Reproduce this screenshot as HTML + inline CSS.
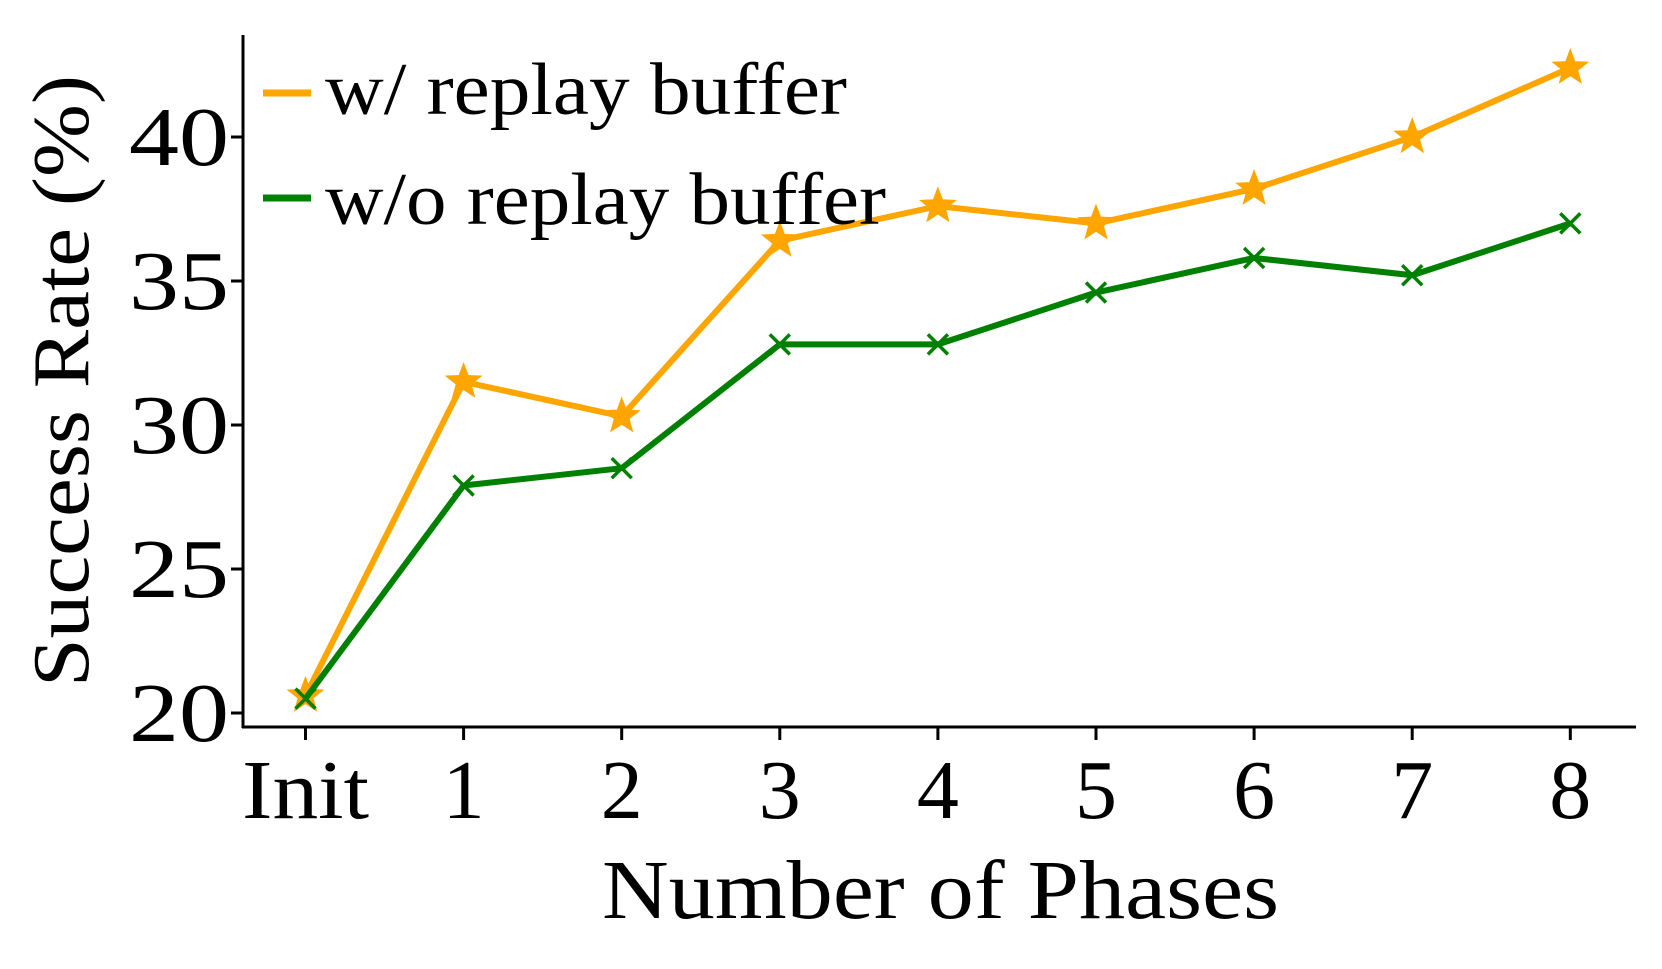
<!DOCTYPE html>
<html><head><meta charset="utf-8"><style>
html,body{margin:0;padding:0;background:#fff;}
svg{display:block;font-family:"Liberation Serif",serif;}
</style></head><body>
<svg id="chart" width="1662" height="969" viewBox="0 0 1662 969">
<g id="axes"></g>
<g id="series"></g>
<g id="legend"></g>
</svg>
<script>
const categories = ["Init","1","2","3","4","5","6","7","8"];
const withBuffer = [20.6,31.5,30.3,36.4,37.6,37.0,38.2,40.0,42.4];
const withoutBuffer = [20.5,27.9,28.5,32.8,32.8,34.6,35.8,35.2,37.0];
const yTicks = [20,25,30,35,40];

const NS="http://www.w3.org/2000/svg";
const X0=305.5, XSTEP=158.1, Y20=713, YPER=28.8;
const xs=i=>X0+i*XSTEP;
const ys=v=>Y20-(v-20)*YPER;
function mk(tag,attrs,parent){const e=document.createElementNS(NS,tag);for(const k in attrs)e.setAttribute(k,attrs[k]);parent.appendChild(e);return e;}
const axes=document.getElementById('axes'), series=document.getElementById('series'), legend=document.getElementById('legend');

let a=mk('line',{x1:243,y1:35,x2:243,y2:728,stroke:'#000','stroke-width':3},axes);


a=mk('line',{x1:242,y1:727,x2:1636,y2:727,stroke:'#000','stroke-width':3},axes);



yTicks.forEach(v=>{
  const y=ys(v);
  let t=mk('line',{x1:231,y1:y,x2:243,y2:y,stroke:'#000','stroke-width':3},axes);
  
  
  let l=mk('text',{x:229,y:y+28,'text-anchor':'end','font-size':84,textLength:100,lengthAdjust:'spacingAndGlyphs'},axes);
  l.textContent=v;
  
  
});
categories.forEach((c,i)=>{
  const x=xs(i);
  let t=mk('line',{x1:x,y1:727,x2:x,y2:740,stroke:'#000','stroke-width':3},axes);
  
  
  let l=mk('text',{x:x,y:818,'text-anchor':'middle','font-size':84},axes);
  l.textContent=c;
  if(c==="Init"){l.setAttribute('textLength',127);l.setAttribute('lengthAdjust','spacingAndGlyphs');}
  
  
});
let xt=mk('text',{x:602,y:918,'font-size':84,textLength:677,lengthAdjust:'spacingAndGlyphs'},axes);
xt.textContent="Number of Phases";


let yt=mk('text',{x:0,y:0,'font-size':80,'text-anchor':'middle',textLength:612,lengthAdjust:'spacingAndGlyphs',transform:'translate(88,381) rotate(-90)'},axes);
yt.textContent="Success Rate (%)";



function starPath(cx,cy,R){const r=R*0.42;let d='';for(let k=0;k<10;k++){const ang=-Math.PI/2+k*Math.PI/5;const rr=k%2?r:R;d+=(k?'L':'M')+(cx+rr*Math.cos(ang)).toFixed(1)+','+(cy+rr*Math.sin(ang)).toFixed(1);}return d+'Z';}

function drawSeries(vals,color,marker,name){
  const pts=vals.map((v,i)=>xs(i)+','+ys(v)).join(' ');
  let p=mk('polyline',{points:pts,fill:'none',stroke:color,'stroke-width':6,'stroke-linejoin':'round'},series);
  
  
  vals.forEach((v,i)=>{
    const x=xs(i),y=ys(v);
    let m;
    if(marker==='star'){m=mk('path',{d:starPath(x,y,17),fill:color,stroke:color,'stroke-width':2},series);}
    else{m=mk('path',{d:`M${x-10},${y-10}L${x+10},${y+10}M${x-10},${y+10}L${x+10},${y-10}`,stroke:color,'stroke-width':3.5,fill:'none'},series);}
    
    
  });
}
drawSeries(withBuffer,'#FFA500','star','with-replay-buffer');
drawSeries(withoutBuffer,'#008000','x','without-replay-buffer');

[['w/  replay buffer','#FFA500',93,114,522,'legend-entry-with-buffer'],['w/o replay buffer','#008000',198,224,561,'legend-entry-without-buffer']].forEach(e=>{
  const g=mk('g',{},legend);
  
  
  mk('line',{x1:263,y1:e[2],x2:311,y2:e[2],stroke:e[1],'stroke-width':7},g);
  const t=mk('text',{x:325,y:e[3],'font-size':74,textLength:e[4],lengthAdjust:'spacingAndGlyphs','xml:space':'preserve'},g);
  t.textContent=e[0];
});
</script>
</body></html>
